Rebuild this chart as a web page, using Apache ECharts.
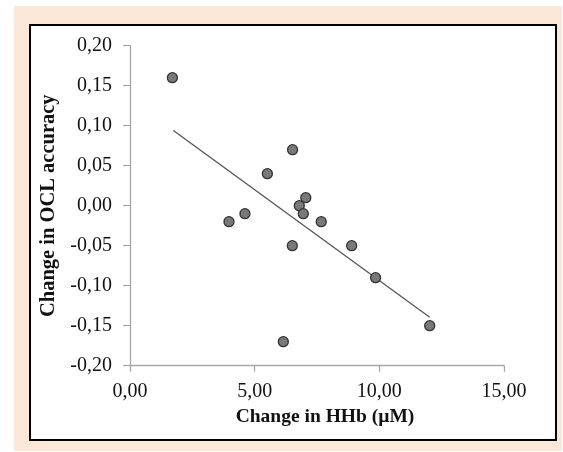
<!DOCTYPE html>
<html>
<head>
<meta charset="utf-8">
<script src="https://cdn.jsdelivr.net/npm/echarts@6/dist/echarts.min.js"></script>
<style>
html,body{margin:0;padding:0;background:#fff;width:563px;height:452px;overflow:hidden;}
#bg{position:absolute;left:14px;top:6px;width:548px;height:445px;background:#fce8d9;}
#box{position:absolute;left:29px;top:24px;width:524px;height:413px;background:#fff;border:2.5px solid #000;}
#chart{position:absolute;left:0;top:0;width:563px;height:452px;}
</style>
</head>
<body>
<div id="bg"></div>
<div id="box"></div>
<div id="chart"></div>
<script>
// Data
const hhbChange = [1.70, 6.52, 5.51, 7.05, 6.79, 6.95, 4.61, 3.97, 7.67, 6.51, 8.89, 9.85, 12.02, 6.15];
const oclChange = [0.16, 0.07, 0.04, 0.01, 0.00, -0.01, -0.01, -0.02, -0.02, -0.05, -0.05, -0.09, -0.15, -0.17];
const trendX = [1.74, 12.02];
const trendY = [0.094, -0.1395];
const xTitle = 'Change in HHb (µM)';
const yTitle = 'Change in OCL accuracy';

const points = hhbChange.map((x, i) => [x, oclChange[i]]);
const trend = trendX.map((x, i) => [x, trendY[i]]);
const fmt = v => v.toFixed(2).replace('.', ',');
const serif = '"Liberation Serif", "Times New Roman", serif';
const axisCol = '#a6a6a6';

const chart = echarts.init(document.getElementById('chart'), null, {renderer: 'canvas'});
chart.setOption({
  backgroundColor: 'transparent',
  animation: false,
  grid: {left: 130, right: 59, top: 45.7, bottom: 86.3, containLabel: false},
  xAxis: {
    type: 'value', min: 0, max: 15, interval: 5,
    axisLine: {show: true, onZero: false, lineStyle: {color: axisCol, width: 1.3}},
    axisTick: {show: true, length: 6, lineStyle: {color: axisCol, width: 1.3}},
    splitLine: {show: false},
    axisLabel: {formatter: fmt, color: '#111', fontFamily: serif, fontSize: 20, margin: 16},
    name: xTitle, nameLocation: 'middle', nameGap: 39,
    nameTextStyle: {color: '#111', fontFamily: serif, fontSize: 19.5, fontWeight: 'bold', padding: [0, 0, 0, 16]}
  },
  yAxis: {
    type: 'value', min: -0.2, max: 0.2, interval: 0.05,
    axisLine: {show: true, onZero: false, lineStyle: {color: axisCol, width: 1.3}},
    axisTick: {show: true, length: 7, lineStyle: {color: axisCol, width: 1.3}},
    splitLine: {show: false},
    axisLabel: {formatter: fmt, color: '#111', fontFamily: serif, fontSize: 20, margin: 18},
    name: yTitle, nameLocation: 'middle', nameGap: 63, nameRotate: 90,
    nameTextStyle: {color: '#111', fontFamily: serif, fontSize: 20.5, fontWeight: 'bold'}
  },
  series: [
    {
      type: 'line', data: trend, symbol: 'none', silent: true,
      lineStyle: {color: '#555555', width: 1.3}, z: 1
    },
    {
      type: 'scatter', data: points, symbol: 'circle', symbolSize: 10,
      itemStyle: {color: '#797979', borderColor: '#333333', borderWidth: 1.3, opacity: 1}, z: 2
    }
  ]
});
</script>
</body>
</html>
